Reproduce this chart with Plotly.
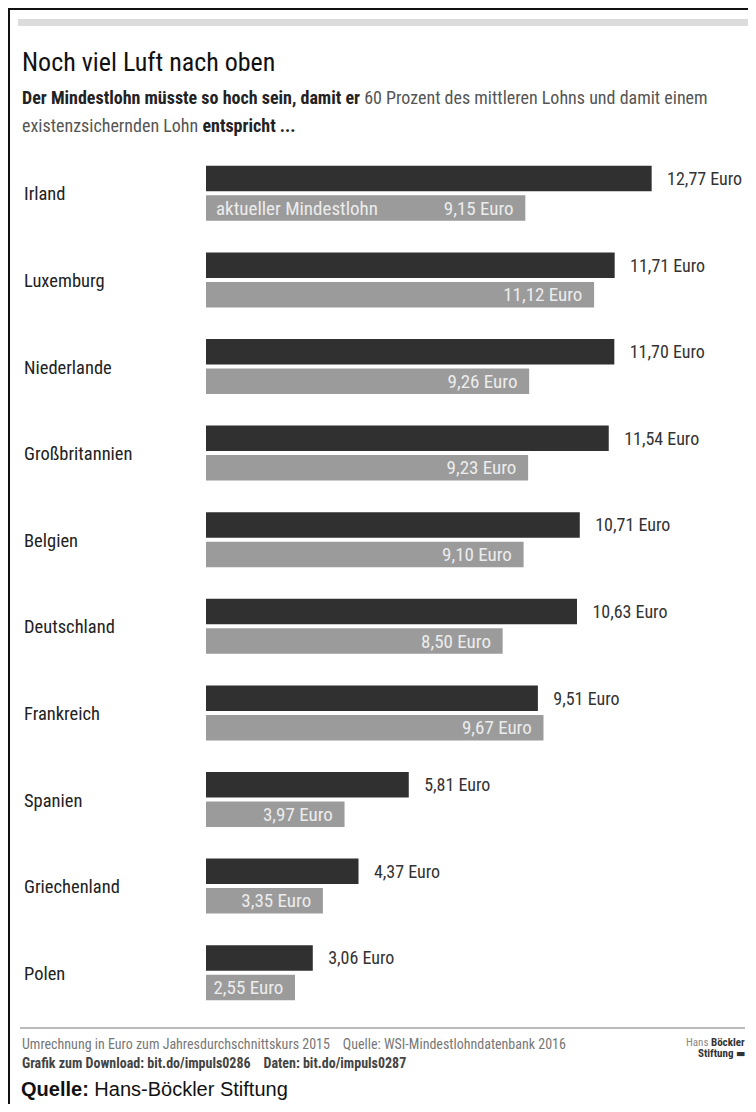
import plotly.graph_objects as go

countries = ["Irland", "Luxemburg", "Niederlande", "Großbritannien", "Belgien",
             "Deutschland", "Frankreich", "Spanien", "Griechenland", "Polen"]
living_wage = [12.77, 11.71, 11.70, 11.54, 10.71, 10.63, 9.51, 5.81, 4.37, 3.06]
current_min = [9.15, 11.12, 9.26, 9.23, 9.10, 8.50, 9.67, 3.97, 3.35, 2.55]

# the page body has an 8px default margin; work in page coordinates and subtract it
OFF = 8
W, H = 756 - OFF, 1112 - 2 * OFF
ML, MT = 206 - OFF, 150 - OFF
PW, PH = 530, 866
MR, MB = W - ML - PW, H - MT - PH
PXPERUNIT = 34.9

def px(x):
    return (x - OFF - ML) / PW

def py(y):
    return 1 - (y - OFF - MT) / PH

def fmt(v):
    return f"{v:.2f}".replace(".", ",") + " Euro"

COND = "Liberation Sans Narrow, Roboto Condensed, DejaVu Sans Condensed, sans-serif"
DARK = "#303030"
LIGHT = "#9b9b9b"

fig = go.Figure()
fig.add_trace(go.Bar(
    y=countries, x=living_wage, orientation="h", marker=dict(color=DARK, line=dict(width=0)),
    text=["\u00a0\u00a0\u00a0" + fmt(v) for v in living_wage], textposition="outside",
    textfont=dict(family=COND, size=18, color="#333333"), cliponaxis=False, hoverinfo="skip",
    constraintext="none",
))
fig.add_trace(go.Bar(
    y=countries, x=current_min, orientation="h", marker=dict(color=LIGHT, line=dict(width=0)),
    text=[fmt(v) + "\u00a0\u00a0" for v in current_min], textposition="inside", insidetextanchor="end",
    textfont=dict(family=COND, size=19, color="#ececec"), hoverinfo="skip",
    constraintext="none",
))

fig.update_layout(
    width=W, height=H, paper_bgcolor="white", plot_bgcolor="white",
    margin=dict(l=ML, r=MR, t=MT, b=MB),
    barmode="group", bargap=0.318, bargroupgap=0.136,
    showlegend=False, uniformtext=dict(mode=False),
    xaxis=dict(range=[0, PW / PXPERUNIT], visible=False, fixedrange=True),
    yaxis=dict(autorange="reversed", showticklabels=False, showgrid=False, zeroline=False,
               showline=False, ticks="", fixedrange=True),
)

ann = []
for c in countries:
    ann.append(dict(x=px(22), y=c, xref="paper", yref="y", text=c, showarrow=False,
                    xanchor="left", yanchor="middle", yshift=-1,
                    font=dict(family=COND, size=18.5, color="#222222")))
ann.append(dict(x=0, y=countries[0], xref="x", yref="y", text="aktueller Mindestlohn",
                showarrow=False, xanchor="left", yanchor="middle", xshift=8, yshift=-15,
                font=dict(family=COND, size=19, color="#ececec")))

ann.append(dict(x=px(20), y=py(62), xref="paper", yref="paper", showarrow=False,
                xanchor="left", yanchor="middle", text="Noch viel Luft nach oben",
                font=dict(family=COND, size=26, color="#111111")))
ann.append(dict(x=px(20), y=py(98), xref="paper", yref="paper", showarrow=False,
                xanchor="left", yanchor="middle",
                text="<b>Der Mindestlohn müsste so hoch sein, damit er</b> "
                     "<span style='color:#555555'>60 Prozent des mittleren Lohns und damit einem</span>",
                font=dict(family=COND, size=18, color="#222222")))
ann.append(dict(x=px(20), y=py(126), xref="paper", yref="paper", showarrow=False,
                xanchor="left", yanchor="middle",
                text="<span style='color:#555555'>existenzsichernden Lohn</span> <b>entspricht ...</b>",
                font=dict(family=COND, size=18, color="#222222")))

ann.append(dict(x=px(20), y=py(1044), xref="paper", yref="paper", showarrow=False,
                xanchor="left", yanchor="middle",
                text="Umrechnung in Euro zum Jahresdurchschnittskurs 2015\u00a0\u00a0\u00a0\u00a0Quelle: WSI-Mindestlohndatenbank 2016",
                font=dict(family=COND, size=14, color="#777777")))
ann.append(dict(x=px(20), y=py(1063), xref="paper", yref="paper", showarrow=False,
                xanchor="left", yanchor="middle",
                text="<b>Grafik zum Download: bit.do/impuls0286\u00a0\u00a0\u00a0\u00a0Daten: bit.do/impuls0287</b>",
                font=dict(family=COND, size=14, color="#444444")))
ann.append(dict(x=px(747), y=py(1042), xref="paper", yref="paper", showarrow=False,
                xanchor="right", yanchor="middle",
                text="<span style='color:#888888'>Hans</span> <b>Böckler</b>",
                font=dict(family=COND, size=11, color="#333333")))
ann.append(dict(x=px(747), y=py(1053), xref="paper", yref="paper", showarrow=False,
                xanchor="right", yanchor="middle",
                text="<b>Stiftung ▬</b>",
                font=dict(family=COND, size=11, color="#333333")))
ann.append(dict(x=px(19), y=py(1089), xref="paper", yref="paper", showarrow=False,
                xanchor="left", yanchor="middle",
                text="<b>Quelle:</b> Hans-Böckler Stiftung",
                font=dict(family="Liberation Sans, Arial, sans-serif", size=20, color="#111111")))
fig.update_layout(annotations=ann)

shapes = [
    dict(type="line", xref="paper", yref="paper", x0=px(8), x1=px(756), y0=py(9), y1=py(9),
         line=dict(color="#111111", width=2)),
    dict(type="line", xref="paper", yref="paper", x0=px(9), x1=px(9), y0=py(8), y1=py(1104),
         line=dict(color="#111111", width=2)),
    dict(type="rect", xref="paper", yref="paper", x0=px(18), x1=px(749), y0=py(19), y1=py(26),
         fillcolor="#dcdcdc", line=dict(width=0), layer="below"),
    dict(type="line", xref="paper", yref="paper", x0=px(20), x1=px(745), y0=py(1028), y1=py(1028),
         line=dict(color="#777777", width=1)),
]
fig.update_layout(shapes=shapes)

fig.write_html("out.html")
